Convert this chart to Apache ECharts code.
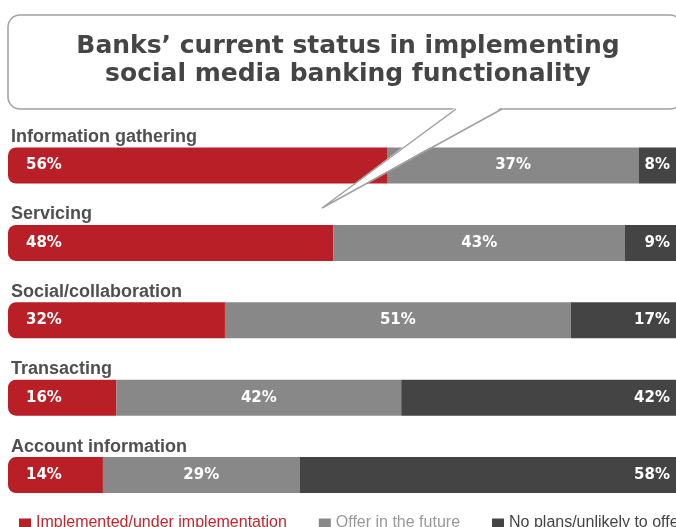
<!DOCTYPE html>
<html>
<head>
<meta charset="utf-8">
<title>Banks’ current status in implementing social media banking functionality</title>
<script src="https://cdn.jsdelivr.net/npm/echarts@6/dist/echarts.min.js"></script>
<style>
  html, body { margin: 0; padding: 0; background: #fff; overflow: hidden; }
  /* the bars run past the right edge of the view, so the canvas is a little wider */
  #chart { width: 700px; height: 527px; }
</style>
</head>
<body>
<div id="chart"></div>
<script>
// Functionality areas, top to bottom
const categories = [
  'Information gathering',
  'Servicing',
  'Social/collaboration',
  'Transacting',
  'Account information'
];

// Share of banks (%) per status
const implemented = [56, 48, 32, 16, 14];
const future = [37, 43, 51, 42, 29];
const noPlans = [8, 9, 17, 42, 58];

const seriesNames = [
  'Implemented/under implementation',
  'Offer in the future',
  'No plans/unlikely to offer'
];

const titleLines = [
  'Banks’ current status in implementing',
  'social media banking functionality'
];

const RED = '#b81f26';
const GREY = '#888888';
const DARK = '#444444';

const chart = echarts.init(document.getElementById('chart'), null, { renderer: 'canvas' });

const valueLabel = (pos, dist) => ({
  show: true,
  position: pos,
  distance: dist,
  color: '#ffffff',
  fontFamily: 'DejaVu Sans',
  fontWeight: 'bold',
  fontSize: 15,
  formatter: p => p.value + '%'
});

chart.setOption({
  animation: false,
  grid: { left: 8, top: 126.8, width: 678, height: 387, containLabel: false },
  xAxis: {
    type: 'value', min: 0, max: 100,
    show: false
  },
  yAxis: {
    type: 'category',
    data: categories,
    inverse: true,
    axisLine: { show: false },
    axisTick: { show: false },
    splitLine: { show: false },
    axisLabel: {
      inside: true,
      margin: 3,
      verticalAlign: 'middle',
      // name sits on the first line, an empty spacer line below lifts it above its bar
      formatter: v => '{n|' + v + '}\n{s| }',
      rich: {
        n: {
          color: '#505050',
          fontFamily: 'Liberation Sans',
          fontWeight: 'bold',
          fontSize: 18,
          lineHeight: 22
        },
        s: { fontSize: 10, lineHeight: 57, height: 57 }
      }
    },
    z: 5
  },
  legend: {
    left: 14,
    top: 510,
    width: 900,
    itemWidth: 12,
    itemHeight: 9,
    itemGap: 32,
    icon: 'rect',
    textStyle: { fontFamily: 'Liberation Sans', fontSize: 16 },
    data: [
      { name: seriesNames[0], textStyle: { color: '#c0262d' } },
      { name: seriesNames[1], textStyle: { color: '#999999' } },
      { name: seriesNames[2], textStyle: { color: '#444444' } }
    ]
  },
  series: [
    {
      name: seriesNames[0], type: 'bar', stack: 'all', barWidth: 36,
      data: implemented,
      itemStyle: { color: RED, borderRadius: [8, 0, 0, 8] },
      label: valueLabel('insideLeft', 18)
    },
    {
      name: seriesNames[1], type: 'bar', stack: 'all', barWidth: 36,
      data: future,
      itemStyle: { color: GREY },
      label: valueLabel('inside', 0)
    },
    {
      name: seriesNames[2], type: 'bar', stack: 'all', barWidth: 36,
      data: noPlans,
      itemStyle: { color: DARK, borderRadius: [0, 8, 8, 0] },
      label: valueLabel('insideRight', 16)
    }
  ],
  graphic: [
    {
      // speech bubble body
      type: 'rect', z: 100,
      shape: { x: 8, y: 15, width: 674, height: 94, r: 12 },
      style: { fill: '#ffffff', stroke: '#a0a0a0', lineWidth: 1.5 }
    },
    {
      // white wedge of the bubble tail
      type: 'polygon', z: 101,
      shape: { points: [[456, 107], [322, 208], [502, 107]] },
      style: { fill: '#ffffff', stroke: null }
    },
    {
      // tail outline
      type: 'polyline', z: 102,
      shape: { points: [[456, 109], [322, 208], [502, 109]] },
      style: { fill: null, stroke: '#a0a0a0', lineWidth: 1.5 }
    },
    {
      type: 'text', z: 103,
      x: 348, y: 32,
      style: {
        text: titleLines.join('\n'),
        fill: '#454545',
        fontFamily: 'DejaVu Sans',
        fontWeight: 'bold',
        fontSize: 25,
        lineHeight: 28,
        align: 'center',
        verticalAlign: 'top'
      }
    }
  ]
});
</script>
</body>
</html>
